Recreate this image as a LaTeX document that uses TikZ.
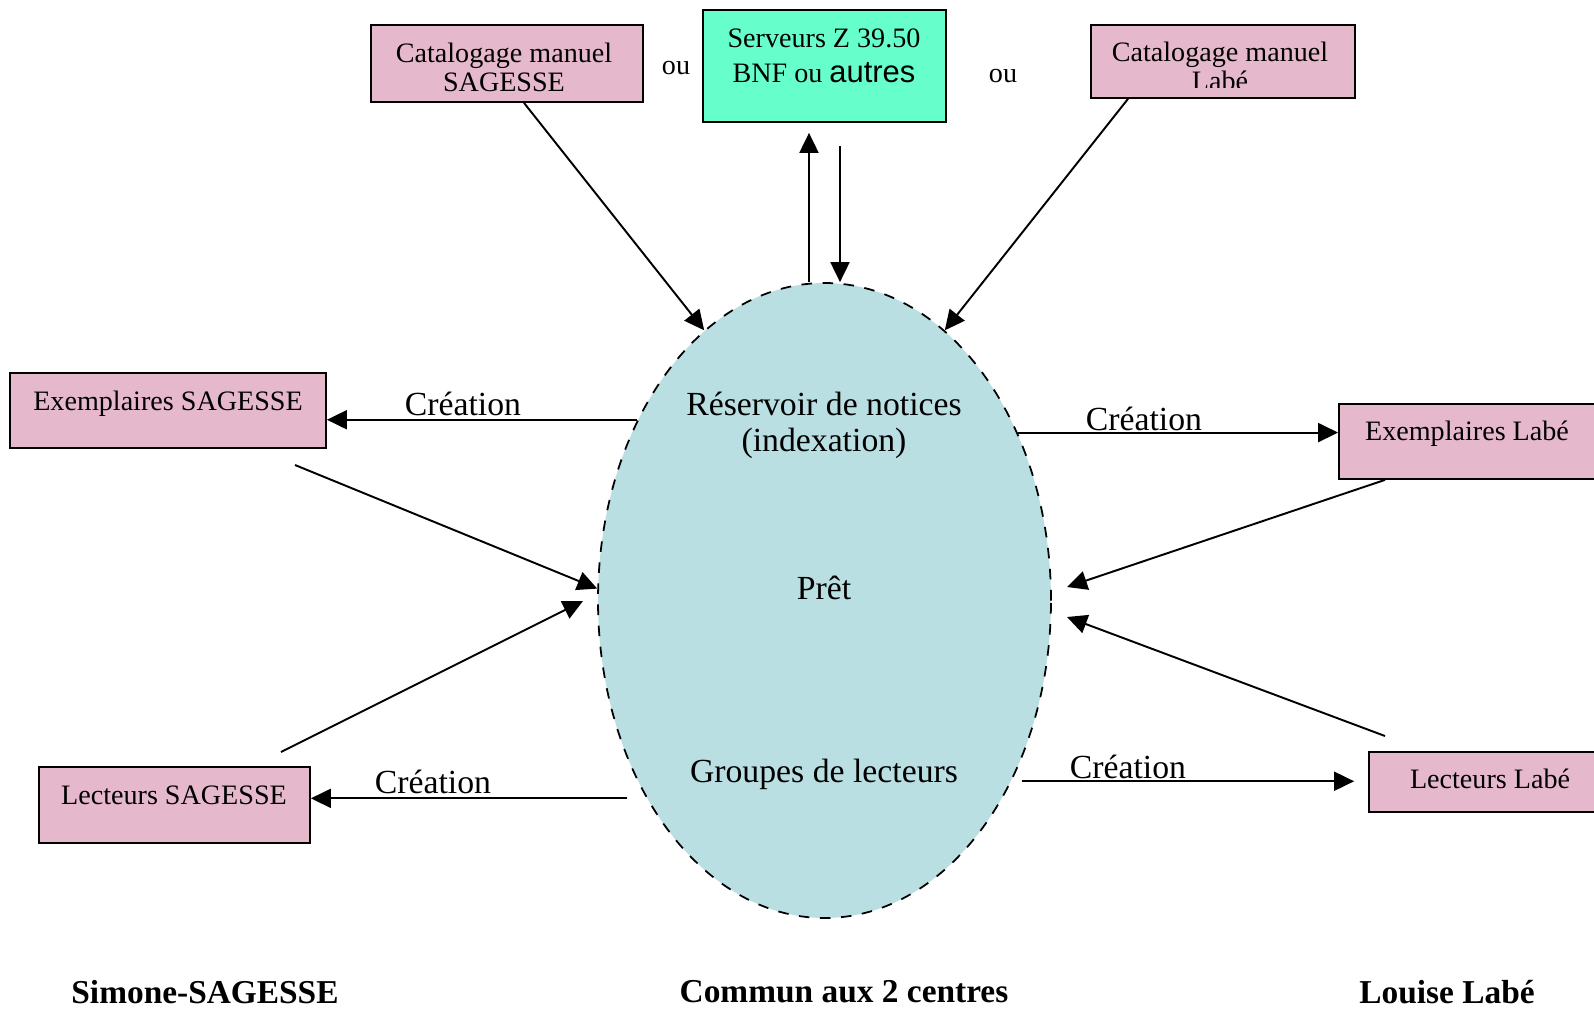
\documentclass[tikz,border=0pt]{standalone}
\usepackage{fontspec}
\setmainfont{Liberation Serif}
\newfontfamily\sansfont{Liberation Sans}
\usetikzlibrary{arrows.meta,shapes.geometric,calc}
\definecolor{pinkbox}{RGB}{230,184,204}
\definecolor{srvgreen}{RGB}{102,255,204}
\definecolor{poolblue}{RGB}{185,223,227}

\begin{document}
\begin{tikzpicture}[x=0.1mm, y=-0.1mm,
		site/.style={draw, fill=pinkbox, line width=0.5pt, inner sep=0pt},
		boxtext/.style={align=center, inner sep=0pt, font=\fontsize{8}{8.3}\selectfont},
		bigtext/.style={align=center, inner sep=0pt, font=\fontsize{9.6}{10.3}\selectfont},
		centre/.style={inner sep=0pt, font=\bfseries\fontsize{9.5}{11}\selectfont},
		lien/.style={line width=0.55pt, -{Triangle[length=2mm, width=1.9mm]}}]
			\useasboundingbox (0,0) rectangle (1594,1009);
			\clip (0,0) rectangle (1594,1009);
			\node [draw, dashed, ellipse, fill=poolblue, line width=0.5pt, inner sep=0pt, minimum width=45.3mm, minimum height=63.5mm] (pool) at (824.5,600.5) {};
			\node [bigtext] (resv) at (824,425) {Réservoir de notices\\(indexation)};
			\node [bigtext] (pret) at (824,588) {Prêt};
			\node [bigtext] (grp) at (824,774) {Groupes de lecteurs};
			\node [site, minimum width=27.2mm, minimum height=7.7mm] (cms) at (507,63.5) {};
			\node [boxtext] (cmstext) at (504,67) {Catalogage manuel\\SAGESSE};
			\node [site, fill=srvgreen, minimum width=24.3mm, minimum height=11.2mm] (srv) at (824.5,66) {};
			\node [align=center, inner sep=0pt, font=\fontsize{8}{10}\selectfont] (srvtext) at (824,56) {Serveurs Z 39.50\\BNF ou {\sansfont\fontsize{8.8}{10}\selectfont autres}};
			\node [site, minimum width=26.4mm, minimum height=7.3mm] (cml) at (1223,61.5) {};
			\begin{scope}
				\clip (1091,25) rectangle (1355,87);
				\node [boxtext] (cmltext) at (1220,66) {Catalogage manuel\\Labé};
			\end{scope}
			\node [boxtext] (ou1) at (676,68) {ou};
			\node [boxtext] (ou2) at (1003,76) {ou};
			\node [site, minimum width=31.6mm, minimum height=7.5mm] (exs) at (168,410.5) {};
			\node [boxtext] (exstext) at (168,404) {Exemplaires SAGESSE};
			\node [site, minimum width=27.1mm, minimum height=7.6mm] (lcs) at (174.5,805) {};
			\node [boxtext] (lcstext) at (174,795) {Lecteurs SAGESSE};
			\node [site, minimum width=27.1mm, minimum height=7.5mm] (exl) at (1474.5,441.5) {};
			\node [boxtext] (exltext) at (1467,434) {Exemplaires Labé};
			\node [site, minimum width=24.2mm, minimum height=6mm] (lcl) at (1490,782) {};
			\node [boxtext] (lcltext) at (1490,779) {Lecteurs Labé};
			\draw [lien] ([xshift=1.7mm]cms.south) -- (pool.114);
			\draw [lien] ([xshift=-9.5mm]cml.south) -- (pool.66);
			\draw [lien] ([xshift=-1.55mm]pool.north) -- ([shift={(-1.55mm,-1mm)}]srv.south);
			\draw [lien] ([shift={(1.55mm,-2.3mm)}]srv.south) -- ([xshift=1.55mm]pool.north);
			\draw [lien] (pool.136) -- (pool.136 -| exs.east);
			\node [bigtext] (cr1) at (463,404) {Création};
			\draw [lien] (pool.41) -- (pool.41 -| exl.west);
			\node [bigtext] (cr2) at (1144,419) {Création};
			\draw [lien] ([xshift=-1.9mm]pool.228) -- (pool.228 -| lcs.east);
			\node [bigtext] (cr3) at (433,782) {Création};
			\draw [lien] ([xshift=1mm]pool.316) -- ($(pool.316 -| lcl.west)+(-14,0)$);
			\node [bigtext] (cr4) at (1128,767) {Création};
			\coordinate (exsq) at (295,465);
			\draw [lien] (exsq) -- (pool.177);
			\coordinate (lcsq) at (281,752);
			\coordinate (lcsp) at (583,601);
			\draw [lien] (lcsq) -- (lcsp);
			\coordinate (exlp) at (1067,587);
			\draw [lien] ([xshift=-8.95mm]exl.south) -- (exlp);
			\coordinate (lclq) at (1385,736);
			\coordinate (lclp) at (1067,617);
			\draw [lien] (lclq) -- (lclp);
			\node [centre] (sag) at (205,992) {Simone-SAGESSE};
			\node [centre] (com) at (844,992) {Commun aux 2 centres};
			\node [centre] (lab) at (1447,992) {Louise Labé};
		\end{tikzpicture}
\end{document}
